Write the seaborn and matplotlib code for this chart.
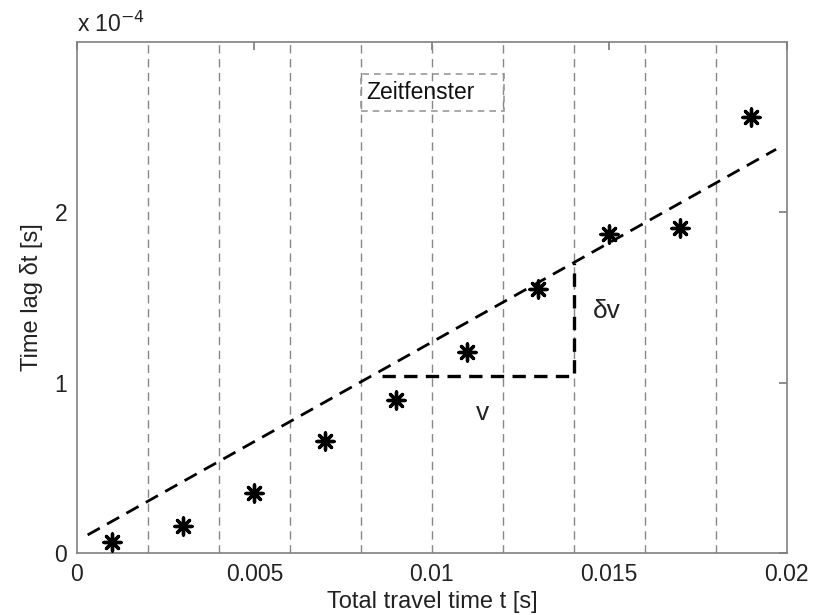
import numpy as np
import pandas as pd
import matplotlib
matplotlib.use("Agg")
import matplotlib.pyplot as plt
from matplotlib.patches import Rectangle
import seaborn as sns

# Data (time lag in units of 1e-4 s)
t_points = [0.001, 0.003, 0.005, 0.007, 0.009, 0.011, 0.013, 0.015, 0.017, 0.019]
lag_points = [0.065, 0.16, 0.35, 0.66, 0.90, 1.18, 1.55, 1.87, 1.91, 2.56]
fit_t = [0.0003, 0.0197]
fit_lag = [0.106, 2.37]
window_edges = [0.002, 0.004, 0.006, 0.008, 0.010, 0.012, 0.014, 0.016, 0.018]
tri_t = [0.0086, 0.014, 0.014]
tri_lag = [1.04, 1.04, 1.70]
ytick_vals = [0, 1, 2]
ytick_labels = ["0", "1", "2"]
xtick_vals = [0, 0.005, 0.01, 0.015, 0.02]
xtick_labels = ["0", "0.005", "0.01", "0.015", "0.02"]

sns.set_theme(style="white")
plt.rcParams["font.family"] = ["Liberation Sans", "DejaVu Sans"]

fig = plt.figure(figsize=(8.13, 6.15), dpi=100)
ax = fig.add_axes([0.0947, 0.1008, 0.873, 0.831])

scale = 1e-4
for xe in window_edges:
    ax.axvline(xe, color="#888888", lw=1.0, ls=(0, (6, 4)), zorder=1)

pts = pd.DataFrame({"t": t_points, "lag": np.array(lag_points) * scale})
fit = pd.DataFrame({"t": fit_t, "lag": np.array(fit_lag) * scale})
tri = pd.DataFrame({"t": tri_t, "lag": np.array(tri_lag) * scale})

sns.lineplot(data=fit, x="t", y="lag", ax=ax, color="black", lw=2.0,
             sort=False, estimator=None, zorder=3)
ax.lines[-1].set_dashes([5, 3])
sns.lineplot(data=tri, x="t", y="lag", ax=ax, color="black", lw=2.4,
             sort=False, estimator=None, zorder=3)
ax.lines[-1].set_dashes([4, 2.5])
sns.scatterplot(data=pts, x="t", y="lag", ax=ax, marker=(8, 2, 0), s=150,
                color="black", edgecolor="black", linewidth=2.4, zorder=4)

ax.set_xlim(0, 0.02)
ax.set_ylim(0, 3e-4)
ax.set_xticks(xtick_vals)
ax.set_xticklabels(xtick_labels)
ax.set_yticks([v * scale for v in ytick_vals])
ax.set_yticklabels(ytick_labels)
ax.tick_params(direction="in", length=6, color="#808080", labelsize=16.5,
               top=True, right=True, labelcolor="#222222", pad=7)
for sp in ax.spines.values():
    sp.set_color("#808080")
    sp.set_linewidth(1.2)

ax.set_xlabel("Total travel time t [s]", fontsize=17, color="#222222", labelpad=4)
ax.set_ylabel("Time lag δt [s]", fontsize=17, color="#222222", labelpad=8)

ax.text(0.0, 1.01, r"x 10$^{-4}$", transform=ax.transAxes, fontsize=16.5,
        color="#222222", ha="left", va="bottom")
ax.text(0.01455, 1.42 * scale, "δv", fontsize=19, color="#222222", ha="left", va="center")
ax.text(0.01125, 0.82 * scale, "v", fontsize=19, color="#222222", ha="left", va="center")

# legend-like box "Zeitfenster" (transparent, window lines show through)
ax.add_patch(Rectangle((0.00801, 2.595 * scale), 0.00401, 0.215 * scale,
                       fc="none", ec="#999999", lw=1.2, ls=(0, (4, 3)), zorder=5))
ax.text(0.00815, 2.705 * scale, "Zeitfenster", fontsize=16.5, color="#111111",
        ha="left", va="center", zorder=6)

fig.savefig("out.png", dpi=100)
